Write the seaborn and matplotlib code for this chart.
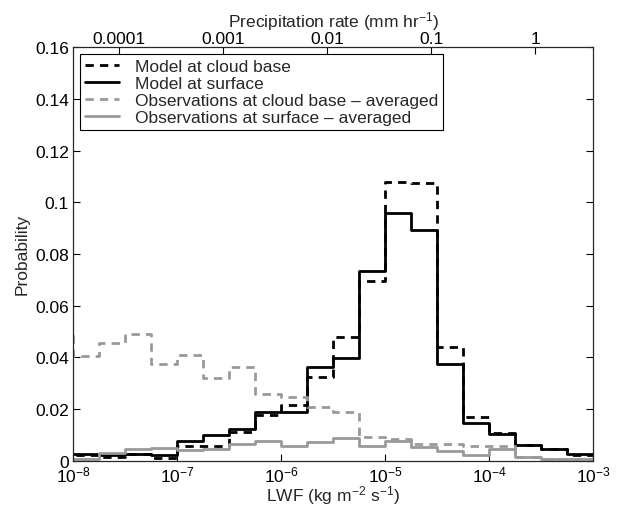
import numpy as np
import matplotlib
matplotlib.use('Agg')
import matplotlib.pyplot as plt
import seaborn as sns
from matplotlib.ticker import FixedLocator, NullLocator, FormatStrFormatter

# log10(LWF) bin edges, 0.25 decade wide; the first bin sits just left of the plotted range
log_edges = np.arange(-8.25, -2.99, 0.25)

model_cloud_base = [0.002, 0.002, 0.0015, 0.0025, 0.0008, 0.0058, 0.0058, 0.011, 0.0177,
                    0.0215, 0.0325, 0.0477, 0.0697, 0.108, 0.1074, 0.0439, 0.0168, 0.0105,
                    0.0062, 0.0045, 0.002]
model_surface = [0.0025, 0.0025, 0.002, 0.0025, 0.002, 0.0077, 0.0097, 0.0123, 0.0187,
                 0.0187, 0.0364, 0.0397, 0.0733, 0.0959, 0.0894, 0.0372, 0.0145, 0.0101,
                 0.0061, 0.0045, 0.0026]
obs_cloud_base = [0.0497, 0.0404, 0.0455, 0.0488, 0.0374, 0.041, 0.032, 0.0361, 0.0258,
                  0.0245, 0.0206, 0.0187, 0.009, 0.0084, 0.0065, 0.0065, 0.0055, 0.0058,
                  0.0013, 0.0006, 0.0004]
obs_surface = [0.0006, 0.0006, 0.0028, 0.0045, 0.0048, 0.0039, 0.0045, 0.0064, 0.0077,
               0.0057, 0.0071, 0.0086, 0.0058, 0.0077, 0.0052, 0.0035, 0.0022, 0.0045,
               0.0013, 0.0006, 0.0004]

labels = ['Model at cloud base', 'Model at surface',
          'Observations at cloud base \u2013 averaged', 'Observations at surface \u2013 averaged']

lwf_ticks = [1e-8, 1e-7, 1e-6, 1e-5, 1e-4, 1e-3]
precip_ticks = [1e-4, 1e-3, 1e-2, 1e-1, 1]
precip_labels = ['0.0001', '0.001', '0.01', '0.1', '1']
y_ticks = [0, 0.02, 0.04, 0.06, 0.08, 0.1, 0.12, 0.14, 0.16]
lwf_to_precip = 3600.0  # kg m-2 s-1 -> mm hr-1

sns.set_style('ticks')
plt.rcParams['font.family'] = ['Liberation Sans', 'DejaVu Sans']
plt.rcParams['mathtext.fontset'] = 'custom'
plt.rcParams['mathtext.rm'] = 'Liberation Sans'
plt.rcParams['mathtext.it'] = 'Liberation Sans:italic'
plt.rcParams['font.size'] = 12.5
plt.rcParams['lines.dashed_pattern'] = [3.0, 2.2]
fs = 12.5

fig = plt.figure(figsize=(6.19, 5.06), dpi=100)
ax = fig.add_axes([0.1184, 0.0879, 0.8401, 0.8166])
ax.set_xscale('log')

edges = 10.0 ** log_edges
series = [(model_cloud_base, 'black', '--'), (model_surface, 'black', '-'),
          (obs_cloud_base, '#999999', '--'), (obs_surface, '#999999', '-')]
for (vals, col, ls), lab in zip(series, labels):
    y = np.append(vals, vals[-1])
    sns.lineplot(x=edges, y=y, drawstyle='steps-post', color=col, linestyle=ls,
                 linewidth=2, label=lab, ax=ax)

ax.set_xlim(1e-8, 1e-3)
ax.set_ylim(0, 0.16)
ax.xaxis.set_major_locator(FixedLocator(lwf_ticks))
ax.xaxis.set_minor_locator(NullLocator())
ax.yaxis.set_major_locator(FixedLocator(y_ticks))
ax.yaxis.set_major_formatter(FormatStrFormatter('%g'))
ax.tick_params(direction='in', length=5, width=0.8, top=False, right=True, colors='black', labelsize=fs)
ax.tick_params(axis='x', pad=3)
ax.tick_params(axis='y', pad=3)
ax.set_xlabel('LWF (kg m$^{-2}$ s$^{-1}$)', fontsize=fs, labelpad=-1)
ax.set_ylabel('Probability', fontsize=fs, labelpad=4)
for s in ax.spines.values():
    s.set_color('black')
    s.set_linewidth(0.8)

ax2 = ax.twiny()
ax2.set_xscale('log')
ax2.set_xlim(1e-8 * lwf_to_precip, 1e-3 * lwf_to_precip)
ax2.xaxis.set_major_locator(FixedLocator(precip_ticks))
ax2.xaxis.set_minor_locator(NullLocator())
ax2.set_xticklabels(precip_labels)
ax2.tick_params(direction='in', length=5, width=0.8, colors='black', labelsize=fs, pad=1)
ax2.set_xlabel('Precipitation rate (mm hr$^{-1}$)', fontsize=fs, labelpad=3)

leg = ax.legend(loc='upper left', frameon=True, fancybox=False, edgecolor='black',
                framealpha=1, borderaxespad=0.4, handlelength=2.0, fontsize=fs,
                labelspacing=0.12, borderpad=0.25, handletextpad=0.9)
leg.get_frame().set_linewidth(0.8)

fig.savefig('out.png', dpi=100, facecolor='white')
